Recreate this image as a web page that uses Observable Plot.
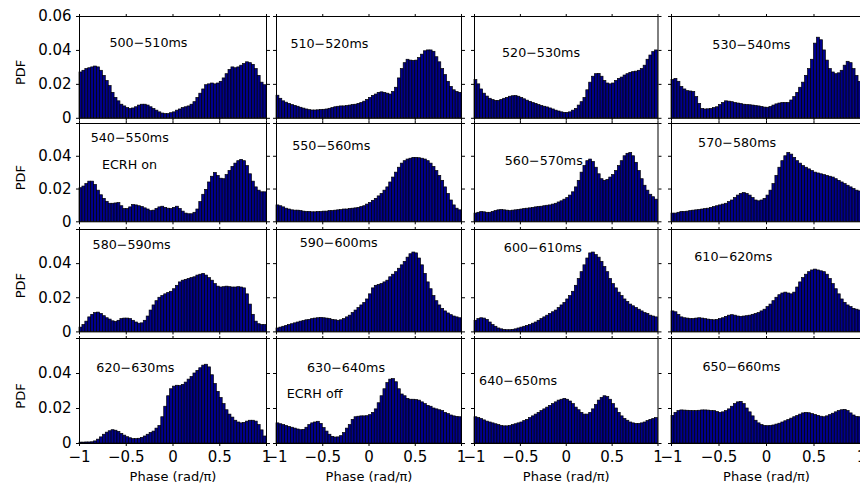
<!DOCTYPE html>
<html><head><meta charset="utf-8">
<script src="https://cdn.jsdelivr.net/npm/d3@7"></script>
<script src="https://cdn.jsdelivr.net/npm/@observablehq/plot@0.6"></script>
<style>
html,body{margin:0;padding:0;background:#fff;}
#chart{position:relative;width:860px;height:487px;overflow:hidden;font-family:"DejaVu Sans",sans-serif;}
#chart svg{position:absolute;overflow:visible;background:transparent;}
</style></head><body><div id="chart"></div>
<script>
// ---- data ----
const windows = ["500−510ms","510−520ms","520−530ms","530−540ms",
                 "540−550ms","550−560ms","560−570ms","570−580ms",
                 "580−590ms","590−600ms","600−610ms","610−620ms",
                 "620−630ms","630−640ms","640−650ms","650−660ms"];
const notes = ["","","","","ECRH on","","","","","","","","","ECRH off","",""];
const xTicks = [-1,-0.5,0,0.5,1];
const yTicks = [0,0.02,0.04,0.06];
const xLabel = "Phase (rad/π)";
const yLabel = "PDF";

const pdf500 = [0.027,0.028,0.029,0.0295,0.030,0.0305,0.030,0.028,
 0.025,0.022,0.019,0.015,0.012,0.010,0.008,0.007,
 0.006,0.0055,0.0058,0.0065,0.0075,0.008,0.008,0.0075,
 0.0065,0.0055,0.0045,0.0035,0.0028,0.0025,0.0025,0.003,
 0.0035,0.0045,0.0052,0.006,0.0065,0.007,0.008,0.0095,
 0.012,0.0145,0.017,0.0195,0.020,0.0205,0.020,0.0205,
 0.0215,0.0235,0.026,0.0285,0.030,0.0295,0.030,0.031,
 0.032,0.033,0.0325,0.0315,0.029,0.025,0.021,0.0195];
const pdf510 = [0.0133,0.0115,0.010,0.0092,0.0085,0.0078,0.0073,0.0068,
 0.0062,0.0057,0.0052,0.0048,0.0046,0.0046,0.0047,0.0049,
 0.005,0.0052,0.0056,0.006,0.0065,0.0068,0.007,0.007,
 0.0072,0.0075,0.0078,0.008,0.0085,0.009,0.0098,0.0108,
 0.012,0.0132,0.014,0.015,0.0153,0.015,0.0145,0.014,
 0.0155,0.018,0.0235,0.029,0.0325,0.0345,0.034,0.0338,
 0.034,0.0355,0.0375,0.0395,0.040,0.040,0.0392,0.036,
 0.033,0.029,0.0255,0.0215,0.0185,0.0165,0.0155,0.015];
const pdf520 = [0.0225,0.020,0.017,0.0145,0.0128,0.0115,0.0107,0.0102,
 0.0102,0.0108,0.0115,0.012,0.0127,0.013,0.0131,0.0127,
 0.012,0.0112,0.0104,0.0097,0.009,0.0085,0.0078,0.0072,
 0.0068,0.0064,0.0058,0.0052,0.0045,0.004,0.0035,0.0032,
 0.0032,0.0035,0.0045,0.0055,0.0075,0.0095,0.012,0.0165,
 0.021,0.0245,0.026,0.0262,0.0245,0.022,0.0205,0.020,
 0.0205,0.022,0.0232,0.024,0.0252,0.026,0.0268,0.0272,
 0.0275,0.028,0.029,0.031,0.0345,0.037,0.039,0.040];
const pdf530 = [0.0225,0.0232,0.0215,0.0185,0.017,0.016,0.0158,0.0155,
 0.0125,0.0085,0.0055,0.0052,0.0053,0.0055,0.006,0.0065,
 0.0078,0.009,0.010,0.0098,0.0095,0.009,0.0087,0.0084,
 0.008,0.0078,0.0077,0.0075,0.0072,0.007,0.0067,0.0063,
 0.0062,0.0066,0.0075,0.0082,0.0087,0.009,0.009,0.009,
 0.0105,0.0125,0.015,0.018,0.021,0.025,0.029,0.0345,
 0.044,0.0475,0.046,0.040,0.034,0.029,0.027,0.026,
 0.0265,0.028,0.031,0.0333,0.0325,0.029,0.025,0.0215];
const pdf540 = [0.0205,0.0215,0.023,0.0245,0.0245,0.0225,0.019,0.0162,
 0.014,0.0122,0.011,0.011,0.0112,0.0114,0.0095,0.0078,
 0.0078,0.0088,0.0102,0.010,0.0095,0.009,0.0082,0.0075,
 0.0065,0.0068,0.0078,0.0088,0.0092,0.0085,0.008,0.0078,
 0.0085,0.0092,0.0078,0.0062,0.005,0.0046,0.0046,0.0055,
 0.0075,0.012,0.0165,0.0195,0.024,0.0275,0.0298,0.028,
 0.0263,0.026,0.0285,0.031,0.0335,0.0355,0.037,0.0378,
 0.037,0.034,0.029,0.0245,0.021,0.019,0.018,0.018];
const pdf550 = [0.010,0.0095,0.0088,0.008,0.0075,0.007,0.0068,0.0068,
 0.0065,0.0062,0.006,0.006,0.0058,0.0058,0.006,0.006,
 0.0062,0.0062,0.0065,0.0065,0.0068,0.007,0.0072,0.0075,
 0.0075,0.0078,0.008,0.0082,0.0085,0.009,0.0095,0.0105,
 0.0115,0.0128,0.014,0.0155,0.017,0.019,0.021,0.024,
 0.027,0.030,0.033,0.0355,0.037,0.038,0.0385,0.039,
 0.039,0.0388,0.0385,0.038,0.037,0.0355,0.0335,0.031,
 0.028,0.025,0.021,0.017,0.013,0.010,0.008,0.007];
const pdf560 = [0.005,0.0055,0.006,0.0058,0.0055,0.0055,0.006,0.0065,
 0.007,0.0072,0.007,0.0068,0.0065,0.0068,0.007,0.0072,
 0.0075,0.0078,0.008,0.0082,0.0085,0.0088,0.009,0.0092,
 0.0095,0.0098,0.010,0.0105,0.011,0.0118,0.0125,0.0135,
 0.0145,0.016,0.018,0.021,0.025,0.030,0.034,0.037,
 0.038,0.0365,0.033,0.029,0.026,0.025,0.0255,0.027,
 0.0285,0.031,0.034,0.037,0.040,0.0415,0.042,0.040,
 0.036,0.031,0.026,0.022,0.019,0.0165,0.015,0.0135];
const pdf570 = [0.005,0.005,0.0055,0.006,0.006,0.0062,0.0065,0.0068,
 0.007,0.0072,0.0075,0.0078,0.008,0.0085,0.009,0.0095,
 0.010,0.0105,0.011,0.012,0.013,0.0145,0.016,0.017,
 0.0175,0.017,0.016,0.0145,0.013,0.0125,0.013,0.014,
 0.016,0.019,0.023,0.028,0.033,0.037,0.040,0.042,
 0.041,0.039,0.037,0.0355,0.034,0.033,0.032,0.031,
 0.030,0.0295,0.029,0.0285,0.028,0.0275,0.027,0.026,
 0.025,0.024,0.023,0.022,0.021,0.020,0.019,0.0185];
const pdf580 = [0.0025,0.004,0.006,0.0085,0.010,0.011,0.0113,0.0105,
 0.0092,0.008,0.0072,0.0062,0.0058,0.0065,0.0075,0.0078,
 0.0078,0.0075,0.0065,0.0055,0.0048,0.005,0.0065,0.009,
 0.0125,0.0155,0.018,0.020,0.021,0.022,0.0228,0.0235,
 0.025,0.027,0.029,0.030,0.0305,0.031,0.0315,0.032,
 0.033,0.0335,0.034,0.033,0.0315,0.030,0.028,0.0265,
 0.026,0.0262,0.0265,0.0262,0.026,0.026,0.0262,0.026,
 0.0255,0.022,0.016,0.010,0.006,0.0045,0.004,0.004];
const pdf590 = [0.002,0.0025,0.003,0.0035,0.004,0.0045,0.005,0.0055,
 0.006,0.0063,0.0068,0.007,0.0075,0.0078,0.008,0.0082,
 0.008,0.0078,0.0075,0.007,0.0068,0.0065,0.0068,0.0075,
 0.0085,0.0095,0.011,0.0125,0.014,0.0155,0.017,0.019,
 0.022,0.0255,0.027,0.0275,0.028,0.029,0.030,0.032,
 0.0335,0.035,0.037,0.039,0.041,0.0435,0.0455,0.0465,
 0.046,0.043,0.039,0.034,0.029,0.025,0.021,0.018,
 0.0155,0.0135,0.012,0.0108,0.0098,0.009,0.0085,0.008];
const pdf600 = [0.0065,0.0075,0.008,0.0078,0.007,0.0055,0.004,0.003,
 0.002,0.0015,0.0012,0.001,0.001,0.0012,0.0015,0.002,
 0.0025,0.003,0.0035,0.004,0.0048,0.0055,0.0065,0.0075,
 0.0085,0.0095,0.0105,0.0115,0.0125,0.014,0.0155,0.017,
 0.019,0.021,0.0235,0.027,0.031,0.035,0.039,0.043,
 0.046,0.0465,0.045,0.0435,0.041,0.038,0.035,0.031,
 0.028,0.0255,0.023,0.021,0.019,0.0175,0.016,0.015,
 0.014,0.013,0.012,0.011,0.0105,0.0095,0.009,0.0085];
const pdf610 = [0.012,0.0115,0.010,0.0085,0.008,0.0078,0.0075,0.0075,
 0.0078,0.008,0.0078,0.0075,0.0072,0.007,0.0068,0.007,
 0.0075,0.008,0.0088,0.0095,0.0098,0.0095,0.009,0.0088,
 0.009,0.0092,0.0095,0.010,0.0105,0.011,0.012,0.013,
 0.0145,0.016,0.018,0.020,0.0215,0.0225,0.023,0.0225,
 0.022,0.023,0.026,0.029,0.0315,0.0335,0.035,0.036,
 0.0365,0.036,0.0355,0.035,0.0335,0.031,0.028,0.025,
 0.022,0.019,0.017,0.0155,0.0145,0.0135,0.013,0.0125];
const pdf620 = [0.0005,0.0005,0.0006,0.0006,0.0007,0.0012,0.0022,0.0035,
 0.005,0.0062,0.007,0.0076,0.0073,0.0066,0.0055,0.0045,
 0.0036,0.003,0.0025,0.0025,0.0027,0.0032,0.004,0.005,
 0.006,0.0068,0.0085,0.010,0.015,0.021,0.027,0.031,
 0.0325,0.033,0.0328,0.0335,0.0348,0.0365,0.038,0.040,
 0.0415,0.043,0.0445,0.045,0.0435,0.039,0.034,0.0295,
 0.026,0.0225,0.019,0.0165,0.0148,0.013,0.012,0.0115,
 0.0118,0.0125,0.013,0.013,0.0125,0.0105,0.0075,0.004];
const pdf630 = [0.0115,0.011,0.0105,0.010,0.0095,0.009,0.0085,0.008,
 0.0076,0.0078,0.009,0.0105,0.0115,0.012,0.0124,0.0112,
 0.0088,0.0068,0.005,0.0038,0.0034,0.0035,0.0042,0.006,
 0.0085,0.0105,0.0135,0.015,0.0153,0.0155,0.0155,0.0156,
 0.0162,0.0175,0.0195,0.023,0.027,0.031,0.0345,0.0365,
 0.0368,0.035,0.031,0.028,0.027,0.0255,0.025,0.025,
 0.0248,0.0245,0.0235,0.0225,0.0215,0.021,0.020,0.0195,
 0.019,0.0185,0.0175,0.0168,0.016,0.0155,0.0152,0.015];
const pdf640 = [0.015,0.0145,0.014,0.0132,0.0125,0.012,0.0115,0.011,
 0.0105,0.010,0.0098,0.0098,0.010,0.0105,0.011,0.0115,
 0.012,0.0128,0.0135,0.0145,0.0155,0.0165,0.0175,0.0185,
 0.0195,0.0205,0.0215,0.0225,0.0235,0.0245,0.025,0.0255,
 0.025,0.024,0.0225,0.0205,0.019,0.0175,0.0165,0.0165,
 0.0175,0.0195,0.022,0.0245,0.026,0.027,0.0265,0.025,
 0.0225,0.020,0.0175,0.0155,0.014,0.013,0.012,0.0115,
 0.0112,0.0112,0.0115,0.012,0.0128,0.0135,0.014,0.0145];
const pdf650 = [0.0158,0.0175,0.0185,0.0189,0.0188,0.0187,0.0186,0.0185,
 0.0185,0.0187,0.0189,0.0189,0.0188,0.0186,0.0185,0.018,
 0.0175,0.0178,0.0185,0.0195,0.021,0.0225,0.0235,0.0238,
 0.0225,0.020,0.0178,0.0155,0.013,0.0115,0.0105,0.010,
 0.0099,0.010,0.0103,0.0108,0.0113,0.012,0.0127,0.0134,
 0.0142,0.015,0.0157,0.0165,0.0172,0.0175,0.0173,0.0168,
 0.0163,0.0158,0.0153,0.015,0.0155,0.0162,0.017,0.0178,
 0.0185,0.019,0.0192,0.0185,0.0172,0.016,0.0152,0.015];

// label anchor points in data coordinates (phase, pdf)
const labelPos = [[-0.68,0.0447],[-0.85,0.0441],[-0.70,0.0384],[-0.57,0.0433],
                  [-0.88,0.0515],[-0.83,0.0466],[-0.67,0.0374],[-0.72,0.0479],
                  [-0.86,0.0507],[-0.75,0.0519],[-0.68,0.0490],[-0.76,0.0437],
                  [-0.82,0.0432],[-0.67,0.0432],[-0.95,0.0356],[-0.675,0.0438]];
const notePos = [null,null,null,null,[-0.76,0.0347],null,null,null,
                 null,null,null,null,null,[-0.89,0.0282],null,null];

// ---- layout (pixels) ----
const colLeft  = [79, 275.5, 473.5, 671];
const colRight = [266, 460.5, 657, 861];
const rowTop    = [15.7, 122.7, 229.3, 338.3];
const rowBottom = [117.5, 221, 331.7, 443.3];
const ml = 70, mr = 12, mt = 12, mb = 45;
const barFill = "#00008c";

const fmtX = d => d === 0 ? "0" : (d < 0 ? "−" + Math.abs(d) : String(d));
const fmtY = d => d === 0 ? "0" : d.toFixed(2);
const blank = () => "";

const series = [pdf500,pdf510,pdf520,pdf530,pdf540,pdf550,pdf560,pdf570,
                pdf580,pdf590,pdf600,pdf610,pdf620,pdf630,pdf640,pdf650];
const chart = document.getElementById("chart");

series.forEach((vals, k) => {
  const r = Math.floor(k / 4), c = k % 4;
  const W = colRight[c] - colLeft[c], H = rowBottom[r] - rowTop[r];
  const n = vals.length, bw = 2 / n;
  const bins = vals.map((v, i) => ({x1: -1 + i * bw, x2: -1 + (i + 1) * bw, y: v}));
  const isBottom = r === 3, isLeft = c === 0;
  const marks = [
    Plot.rectY(bins, {x1: "x1", x2: "x2", y1: 0, y2: "y", fill: barFill, stroke: "black", strokeWidth: 0.7}),
    Plot.frame({stroke: "black", strokeWidth: 1}),
    Plot.axisX({anchor: "bottom", ticks: xTicks, tickSize: 3, tickPadding: 5,
      tickFormat: isBottom ? fmtX : blank, label: null, fontSize: 15, stroke: "black", fill: "black"}),
    Plot.axisX({anchor: "top", ticks: xTicks, tickSize: 3, tickFormat: blank, label: null, stroke: "black"}),
    Plot.axisY({anchor: "left", ticks: yTicks, tickSize: 3, tickPadding: 5,
      tickFormat: isLeft ? (d => (r > 0 && d > 0.05) ? "" : fmtY(d)) : blank,
      label: null, fontSize: 15, stroke: "black", fill: "black"}),
    Plot.axisY({anchor: "right", ticks: yTicks, tickSize: 3, tickFormat: blank, label: null, stroke: "black"}),
    Plot.text([{x: labelPos[k][0], y: labelPos[k][1], t: windows[k]}],
      {x: "x", y: "y", text: "t", textAnchor: "start", lineAnchor: "middle", fontSize: 12.7, fill: "black"})
  ];
  if (notes[k]) {
    marks.push(Plot.text([{x: notePos[k][0], y: notePos[k][1], t: notes[k]}],
      {x: "x", y: "y", text: "t", textAnchor: "start", lineAnchor: "middle", fontSize: 12.7, fill: "black"}));
  }
  if (isLeft) {
    marks.push(Plot.text([yLabel], {text: d => d, frameAnchor: "left", dx: -59, dy: 5, rotate: -90,
      textAnchor: "middle", lineAnchor: "middle", fontSize: 13, fill: "black"}));
  }
  if (isBottom) {
    marks.push(Plot.text([xLabel], {text: d => d, frameAnchor: "bottom", dy: 33,
      textAnchor: "middle", lineAnchor: "middle", fontSize: 13, fill: "black"}));
  }
  const svg = Plot.plot({
    width: W + ml + mr, height: H + mt + mb,
    marginLeft: ml, marginRight: mr, marginTop: mt, marginBottom: mb,
    x: {domain: [-1, 1]},
    y: {domain: [0, 0.06]},
    style: {background: "transparent", overflow: "visible", fontFamily: "DejaVu Sans", color: "black"},
    marks
  });
  svg.style.position = "absolute";
  svg.style.left = (colLeft[c] - ml) + "px";
  svg.style.top = (rowTop[r] - mt) + "px";
  svg.style.maxWidth = "none";
  chart.appendChild(svg);
});
</script></body></html>
